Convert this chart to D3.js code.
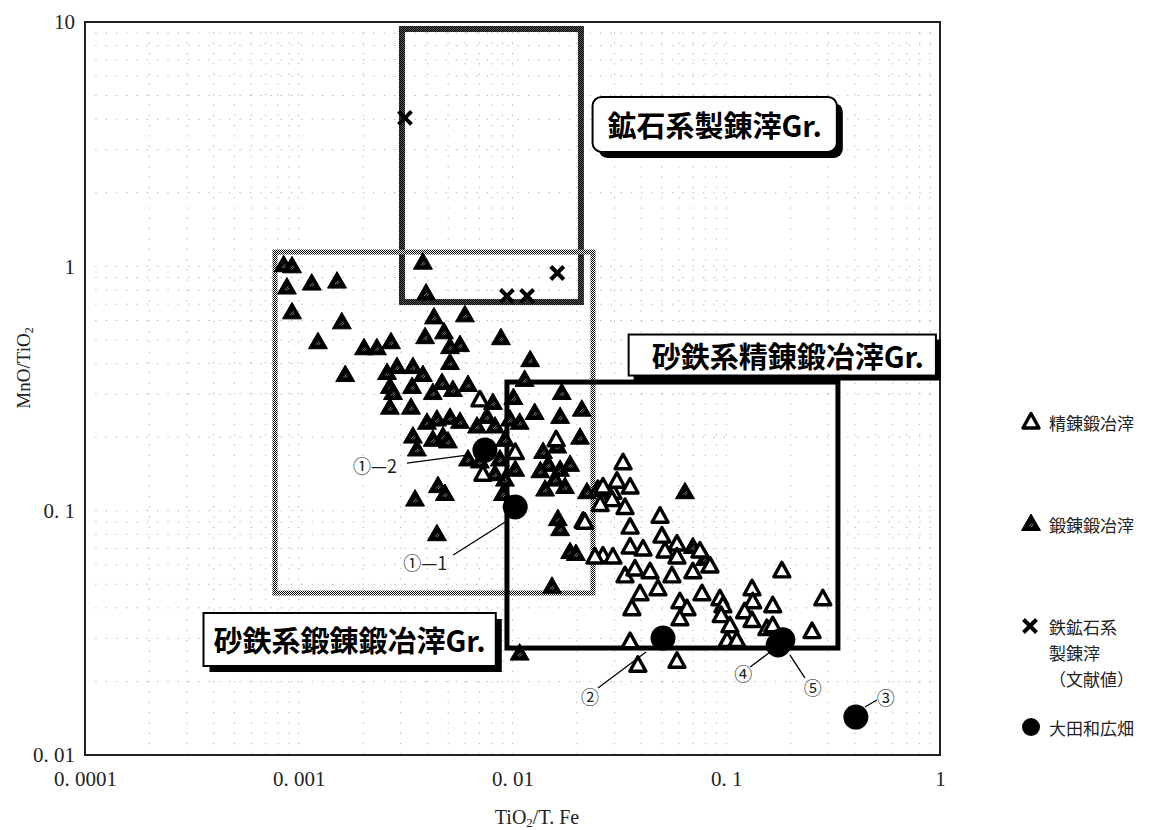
<!DOCTYPE html>
<html><head><meta charset="utf-8">
<script src="https://cdn.jsdelivr.net/npm/d3@7"></script>
<style>body{margin:0;background:#fff;} svg{display:block;}</style>
</head><body><svg id="c" width="1153" height="830"></svg>
<script>
// ---------------- data ----------------
// 精錬鍛冶滓 (open triangles)
const refiningX = [0.00704,0.00727,0.0103,0.0160,0.0214,0.0251,0.0295,0.0265,0.0308,0.0329,0.0355,0.0292,0.0257,0.0336,0.0490,0.0355,0.0500,0.0588,0.0517,0.0753,0.0588,0.0839,0.0355,0.0408,0.0218,0.0265,0.0295,0.0243,0.0336,0.0374,0.0440,0.0395,0.0362,0.0479,0.0557,0.0698,0.0770,0.0607,0.0655,0.0607,0.0934,0.0965,0.132,0.133,0.122,0.0947,0.104,0.101,0.112,0.132,0.165,0.155,0.182,0.283,0.252,0.165,0.0355,0.0386,0.0588];
const refiningY = [0.284,0.141,0.173,0.195,0.0905,0.122,0.119,0.125,0.132,0.157,0.125,0.111,0.106,0.103,0.0949,0.0856,0.0787,0.0730,0.0684,0.0684,0.0646,0.0594,0.0710,0.0697,0.0897,0.0652,0.0646,0.0646,0.0541,0.0577,0.0562,0.0457,0.0397,0.0479,0.0541,0.0562,0.0457,0.0424,0.0397,0.0361,0.0436,0.0408,0.0479,0.0424,0.0386,0.0372,0.0338,0.0294,0.0294,0.0355,0.0408,0.0329,0.0567,0.0436,0.0320,0.0338,0.0291,0.0233,0.0242];
// 鍛錬鍛冶滓 (filled triangles)
const forgingX = [0.00085,0.00093,0.00088,0.00093,0.00115,0.00151,0.00159,0.00123,0.00165,0.00202,0.00232,0.00270,0.00381,0.00394,0.00429,0.00599,0.00390,0.00478,0.00510,0.00568,0.00510,0.00883,0.00259,0.00288,0.00342,0.00381,0.00339,0.00267,0.00276,0.00424,0.00468,0.00526,0.00619,0.00267,0.00335,0.00810,0.00342,0.00398,0.00443,0.00510,0.00473,0.00357,0.00424,0.00499,0.00568,0.00682,0.00759,0.00828,0.00619,0.00704,0.00350,0.00448,0.00483,0.00443,0.0121,0.0114,0.0170,0.0211,0.0207,0.0139,0.0147,0.0167,0.0135,0.0186,0.0158,0.0176,0.0142,0.0641,0.0153,0.0108,0.0163,0.0167,0.0186,0.0198,0.0223,0.00922,0.00973,0.00873,0.0103,0.00922,0.00828,0.00902,0.0101,0.0127,0.0108,0.0162,0.0698,0.0795,0.0167];
const forgingY = [1.01,1.00,0.819,0.648,0.850,0.866,0.590,0.489,0.359,0.462,0.462,0.489,1.035,0.774,0.618,0.630,0.513,0.537,0.467,0.476,0.402,0.508,0.366,0.387,0.387,0.359,0.321,0.321,0.303,0.303,0.333,0.312,0.327,0.264,0.264,0.276,0.201,0.229,0.236,0.240,0.201,0.178,0.195,0.192,0.231,0.221,0.242,0.221,0.162,0.159,0.111,0.126,0.117,0.0801,0.413,0.343,0.303,0.259,0.199,0.174,0.154,0.147,0.145,0.154,0.134,0.125,0.122,0.119,0.0488,0.0260,0.0923,0.0840,0.0677,0.0665,0.119,0.195,0.236,0.162,0.147,0.134,0.141,0.117,0.289,0.251,0.229,0.183,0.0710,0.0634,0.242];
// 鉄鉱石系製錬滓（文献値） (crosses)
const oreX = [0.00314,0.0162,0.00942,0.0117];
const oreY = [4.05,0.939,0.756,0.756];
// 大田和広畑 (large dots)
const siteX = [0.0103,0.00743,0.0506,0.404,0.175,0.184];
const siteY = [0.1035,0.177,0.0301,0.0143,0.0282,0.0296];
const siteLabels = ["①—1","①—2","②","③","④","⑤"];
// group rectangles
const groupNames = ["鉱石系製錬滓Gr.","砂鉄系鍛錬鍛冶滓Gr.","砂鉄系精錬鍛冶滓Gr."];
const groupX0 = [0.00304,0.000774,0.00942];
const groupX1 = [0.0209,0.0238,0.333];
const groupY0 = [0.714,0.046,0.0274];
const groupY1 = [9.36,1.144,0.336];
const groupLabelX = [0.0883,0.00173,0.194];
const groupLabelY = [3.81,0.0297,0.4335];
// axes
const xTickValues = [0.0001,0.001,0.01,0.1,1];
const xTickLabels = ["0. 0001","0. 001","0. 01","0. 1","1"];
const yTickValues = [0.01,0.1,1,10];
const yTickLabels = ["0. 01","0. 1","1","10"];
const legendNames = [["精錬鍛冶滓"],["鍛錬鍛冶滓"],["鉄鉱石系","製錬滓","（文献値）"],["大田和広畑"]];

// ---------------- layout / styles ----------------
const W=1153,H=830, PL=85, PR=940, PT=22, PB=755;
const serif = "'Liberation Serif','DejaVu Serif',serif";
const jp = "'Noto Sans CJK JP','Noto Sans CJK SC',sans-serif";
const x = d3.scaleLog().domain([1e-4,1]).range([PL,PR]);
const y = d3.scaleLog().domain([0.01,10]).range([PB,PT]);

const svg = d3.select("#c");
svg.append("rect").attr("width",W).attr("height",H).attr("fill","#fff");
const defs = svg.append("defs");
function checker(id, dark){
  const p = defs.append("pattern").attr("id",id).attr("patternUnits","userSpaceOnUse").attr("width",2).attr("height",2);
  p.append("rect").attr("width",2).attr("height",2).attr("fill",dark?"#555":"#fff");
  p.append("rect").attr("x",0).attr("y",0).attr("width",1).attr("height",1).attr("fill","#000");
  p.append("rect").attr("x",1).attr("y",1).attr("width",1).attr("height",1).attr("fill","#000");
}
checker("hatchDark",true);
checker("hatchLight",false);

// grid (faint dotted)
const grid = svg.append("g").attr("stroke","#b0b0b0").attr("stroke-width",1).attr("stroke-dasharray","1.3,9");
grid.selectAll("line.gx").data(x.ticks()).join("line").attr("class","gx")
  .attr("x1",d=>x(d)).attr("x2",d=>x(d)).attr("y1",PT).attr("y2",PB);
grid.selectAll("line.gy").data(y.ticks()).join("line").attr("class","gy")
  .attr("x1",PL).attr("x2",PR).attr("y1",d=>y(d)).attr("y2",d=>y(d));

// axes
const xAxis = d3.axisBottom(x).tickValues(xTickValues).tickFormat((d,i)=>xTickLabels[i]).tickSize(0).tickPadding(16);
const gX = svg.append("g").attr("transform",`translate(0,${PB})`).call(xAxis);
gX.select(".domain").remove();
gX.selectAll("text").attr("font-family",serif).attr("font-size",21).attr("fill","#222");
const yAxis = d3.axisLeft(y).tickValues(yTickValues).tickFormat((d,i)=>yTickLabels[i]).tickSize(0).tickPadding(10);
const gY = svg.append("g").attr("transform",`translate(${PL},0)`).call(yAxis);
gY.select(".domain").remove();
gY.selectAll("text").attr("font-family",serif).attr("font-size",21).attr("fill","#222");

// axis titles
const xt = svg.append("text").attr("x",537).attr("y",824).attr("text-anchor","middle")
  .attr("font-family",serif).attr("font-size",20).attr("fill","#222");
xt.append("tspan").text("TiO");
xt.append("tspan").attr("font-size",13).attr("dy",3).text("2");
xt.append("tspan").attr("dy",-3).text("/T. Fe");
const yt = svg.append("text").attr("transform","translate(30,368) rotate(-90)").attr("text-anchor","middle")
  .attr("font-family",serif).attr("font-size",19).attr("fill","#222");
yt.append("tspan").text("MnO/TiO");
yt.append("tspan").attr("font-size",12).attr("dy",3).text("2");

// group rectangles
const groupStroke = ["url(#hatchDark)","url(#hatchLight)","#000"];
const groupWidth = [6,5,5];
const rects = svg.append("g").attr("fill","none");
groupNames.forEach((n,i)=>{
  rects.append("rect")
    .attr("x",x(groupX0[i])).attr("y",y(groupY1[i]))
    .attr("width",x(groupX1[i])-x(groupX0[i])).attr("height",y(groupY0[i])-y(groupY1[i]))
    .attr("stroke",groupStroke[i]).attr("stroke-width",groupWidth[i]);
});

// frame
svg.append("rect").attr("x",PL).attr("y",PT).attr("width",PR-PL).attr("height",PB-PT)
  .attr("fill","none").attr("stroke","#222").attr("stroke-width",2);

// markers
const triFilled = "M0,-10L9.5,6.5L-9.5,6.5Z";
const triOpen = "M0,-8.5L8,6L-8,6Z";
const crossPath = "M-6.5,-6.5L6.5,6.5M6.5,-6.5L-6.5,6.5";
const speck = "M-2,2.5L1.5,-1M0,3L2.5,0.5";

const fG = svg.append("g");
const fPts = forgingX.map((v,i)=>[v,forgingY[i]]);
const fSel = fG.selectAll("g").data(fPts).join("g").attr("transform",d=>`translate(${x(d[0])},${y(d[1])})`);
fSel.append("path").attr("d",triFilled).attr("fill","#000").attr("stroke","#000").attr("stroke-width",1).attr("stroke-linejoin","round");
fSel.append("path").attr("d",speck).attr("stroke","#9a9a9a").attr("stroke-width",0.9);

const oG = svg.append("g");
oG.selectAll("path").data(refiningX.map((v,i)=>[v,refiningY[i]])).join("path")
  .attr("d",triOpen).attr("transform",d=>`translate(${x(d[0])},${y(d[1])})`)
  .attr("fill","#fff").attr("stroke","#000").attr("stroke-width",3.4).attr("stroke-linejoin","round");

svg.append("g").selectAll("path").data(oreX.map((v,i)=>[v,oreY[i]])).join("path")
  .attr("d",crossPath).attr("transform",d=>`translate(${x(d[0])},${y(d[1])})`)
  .attr("fill","none").attr("stroke","#000").attr("stroke-width",4);

svg.append("g").selectAll("circle").data(siteX.map((v,i)=>[v,siteY[i]])).join("circle")
  .attr("cx",d=>x(d[0])).attr("cy",d=>y(d[1])).attr("r",12.5).attr("fill","#000");

// site annotations (pixel offsets from each dot)
const annText = [[-90,55],[-110,15],[-73,58],[30,-20],[-35,28],[30,47]];
const annLine = [[-62,48,-10,15],[-78,13,-18,5],[-65,50,-17,14],[9,-10,21,-17],[-28,22,-8,7],[22,38,7,15]];
const ann = svg.append("g");
siteLabels.forEach((lab,i)=>{
  const cx=x(siteX[i]), cy=y(siteY[i]);
  const L=annLine[i];
  ann.append("line").attr("x1",cx+L[0]).attr("y1",cy+L[1]).attr("x2",cx+L[2]).attr("y2",cy+L[3])
    .attr("stroke","#000").attr("stroke-width",1.3);
  ann.append("text").attr("x",cx+annText[i][0]).attr("y",cy+annText[i][1])
    .attr("text-anchor","middle").attr("dominant-baseline","central")
    .attr("font-family",jp).attr("font-size",18).attr("fill","#222").text(lab);
});

// group labels
const labStyle = [{pl:15,pr:15,h:55,rx:9,sh:6},{pl:10,pr:10,h:53,rx:0,sh:6},{pl:23,pr:12,h:41,rx:0,sh:5}];
groupNames.forEach((n,i)=>{
  const g = svg.append("g");
  const cx=x(groupLabelX[i]), cy=y(groupLabelY[i]), s=labStyle[i];
  const sh = g.append("rect"), bx = g.append("rect");
  const t = g.append("text").attr("x",cx).attr("y",cy).attr("text-anchor","middle").attr("dominant-baseline","central")
    .attr("font-family",jp).attr("font-weight",700).attr("font-size",29).attr("fill","#000").text(n);
  const w = t.node().getComputedTextLength();
  const x0 = cx-w/2-s.pl, bw = w+s.pl+s.pr, y0 = cy-s.h/2;
  sh.attr("x",x0+s.sh).attr("y",y0+s.sh).attr("width",bw).attr("height",s.h).attr("rx",s.rx).attr("fill","#000");
  bx.attr("x",x0).attr("y",y0).attr("width",bw).attr("height",s.h).attr("rx",s.rx).attr("fill","#fff").attr("stroke","#000").attr("stroke-width",2);
});

// legend
const legY = [422,524,626,727];
const lg = svg.append("g");
lg.append("path").attr("d",triOpen).attr("transform",`translate(1031,${legY[0]})`).attr("fill","#fff").attr("stroke","#000").attr("stroke-width",3.4).attr("stroke-linejoin","round");
lg.append("path").attr("d",triFilled).attr("transform",`translate(1031,${legY[1]})`).attr("fill","#000").attr("stroke","#000").attr("stroke-width",1);
lg.append("path").attr("d",speck).attr("transform",`translate(1031,${legY[1]})`).attr("stroke","#9a9a9a").attr("stroke-width",0.9);
lg.append("path").attr("d",crossPath).attr("transform",`translate(1030,${legY[2]})`).attr("stroke","#000").attr("stroke-width",4);
lg.append("circle").attr("cx",1031).attr("cy",legY[3]).attr("r",9).attr("fill","#000");
legendNames.forEach((lines,i)=>{
  lines.forEach((ln,j)=>{
    lg.append("text").attr("x",1049).attr("y",legY[i]+j*26).attr("dominant-baseline","central")
      .attr("font-family",jp).attr("font-size",17).attr("fill","#222").text(ln);
  });
});
</script></body></html>
